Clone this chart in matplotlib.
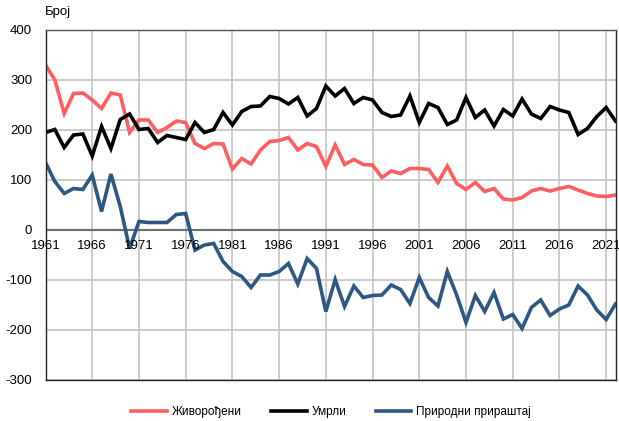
import matplotlib
matplotlib.use("Agg")
import matplotlib.pyplot as plt

plt.rcParams['font.family'] = ['Liberation Sans', 'DejaVu Sans']
plt.rcParams['axes.unicode_minus'] = False

years = list(range(1961, 2023))

# Живорођени (births)
births = [330, 300, 233, 273, 274, 260, 243, 274, 270, 195,
          220, 220, 195, 205, 218, 215, 173, 163, 173, 172,
          122, 143, 132, 160, 177, 179, 185, 160, 173, 167,
          127, 170, 131, 141, 131, 130, 105, 118, 113, 123,
          123, 121, 95, 128, 93, 81, 95, 77, 83, 62,
          60, 65, 78, 83, 78, 83, 87, 80, 73, 68,
          67, 70]

# Умрли (deaths)
deaths = [195, 201, 165, 190, 192, 148, 207, 163, 221, 232,
          201, 203, 175, 189, 185, 181, 215, 195, 201, 235,
          210, 237, 247, 248, 267, 263, 252, 265, 228, 243,
          288, 268, 283, 253, 265, 260, 235, 227, 230, 268,
          215, 253, 245, 211, 220, 265, 225, 240, 208, 241,
          228, 262, 232, 223, 247, 240, 235, 191, 203, 227,
          245, 218]

# Природни прираштај (natural increase)
increase = [135, 97, 73, 83, 81, 110, 37, 112, 47, -37,
            17, 15, 15, 15, 31, 33, -40, -30, -27, -63,
            -83, -93, -115, -90, -90, -83, -67, -108, -57, -77,
            -163, -99, -153, -112, -135, -131, -130, -110, -119, -147,
            -95, -135, -152, -83, -130, -185, -131, -163, -125, -178,
            -169, -197, -155, -140, -171, -158, -150, -112, -130, -160,
            -179, -148]

xticks = [1961, 1966, 1971, 1976, 1981, 1986, 1991, 1996, 2001, 2006, 2011, 2016, 2021]

fig = plt.figure(figsize=(6.19, 4.21), dpi=100)
ax = fig.add_axes([45.5 / 619, 1 - 380 / 421, 570 / 619, 350 / 421])

ax.plot(years, births, color="#ff5f5f", lw=2.6, label="Живорођени", solid_joinstyle="miter")
ax.plot(years, deaths, color="black", lw=2.6, label="Умрли", solid_joinstyle="miter")
ax.plot(years, increase, color="#2e5783", lw=2.6, label="Природни прираштај", solid_joinstyle="miter")

ax.set_xlim(1961, 2022)
ax.set_ylim(-300, 400)
ax.set_yticks(range(-300, 401, 100))
ax.set_xticks(xticks)
ax.set_xticklabels([])
ax.tick_params(length=0, labelsize=9.5, pad=9.5)
ax.grid(True, color="#c4c4c4", lw=1.2)
ax.set_axisbelow(True)
ax.axhline(0, color="#6e6e6e", lw=1.5, zorder=1)

for y in xticks:
    ax.text(y, -32, str(y), ha="center", va="center", fontsize=9.5, zorder=5)

for s in ax.spines.values():
    s.set_color("#222222")
    s.set_linewidth(1.0)
ax.spines["top"].set_color("#555555")

fig.text(45 / 619, 1 - 12 / 421, "Број", fontsize=9.5, va="center", ha="left")
# title is mostly outside the canvas in the original, only its descenders show
fig.text(0.43, 1 + 3 / 421, "Живорођени, умрли и природни прираштај, 1961–2022",
         fontsize=11, fontweight="bold", ha="center", va="baseline")

fig.legend(loc="center", ncol=3, frameon=False, fontsize=8.5,
           bbox_to_anchor=(331 / 619, 1 - 412 / 421), handlelength=3.0,
           columnspacing=2.5, handletextpad=0.4)

fig.savefig("out.png", dpi=100)
